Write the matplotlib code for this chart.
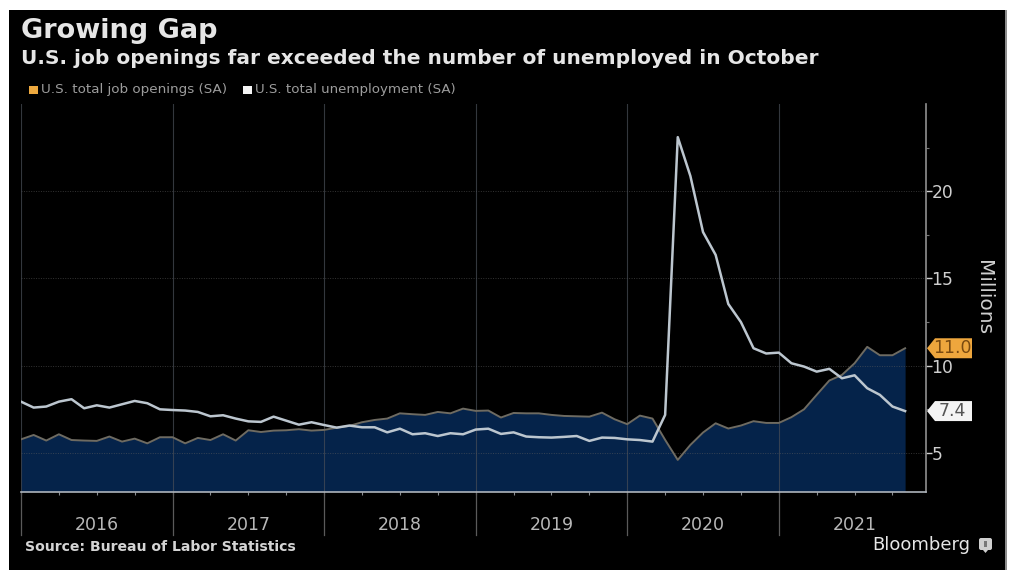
import matplotlib
matplotlib.use('Agg')
import matplotlib.pyplot as plt
from matplotlib.patches import FancyBboxPatch, Polygon, Rectangle

# month-end observations, Dec 2015 to Oct 2021
months = list(range(71))
openings = [5.78, 6.03, 5.71, 6.07, 5.74, 5.71, 5.69, 5.94, 5.65, 5.82, 5.55, 5.90,
            5.90, 5.55, 5.86, 5.74, 6.07, 5.71, 6.30, 6.20, 6.28, 6.30, 6.36, 6.28,
            6.32, 6.45, 6.55, 6.76, 6.89, 6.97, 7.27, 7.22, 7.18, 7.35, 7.27, 7.54,
            7.41, 7.43, 7.03, 7.29, 7.27, 7.27, 7.18, 7.12, 7.10, 7.08, 7.31, 6.93,
            6.65, 7.14, 6.97, 5.75, 4.60, 5.46, 6.17, 6.70, 6.40, 6.57, 6.82, 6.72,
            6.72, 7.05, 7.50, 8.33, 9.15, 9.47, 10.14, 11.08, 10.60, 10.60, 11.0]
unemployment = [7.94, 7.60, 7.66, 7.94, 8.08, 7.56, 7.73, 7.60, 7.79, 7.98, 7.85, 7.50,
                7.46, 7.43, 7.35, 7.10, 7.16, 6.97, 6.81, 6.78, 7.08, 6.85, 6.62, 6.76,
                6.60, 6.45, 6.57, 6.47, 6.47, 6.18, 6.39, 6.07, 6.13, 5.97, 6.13, 6.07,
                6.34, 6.39, 6.09, 6.18, 5.94, 5.90, 5.88, 5.92, 5.97, 5.69, 5.88, 5.86,
                5.78, 5.74, 5.65, 7.18, 23.1, 20.87, 17.66, 16.35, 13.54, 12.5, 11.0, 10.7,
                10.75, 10.14, 9.95, 9.66, 9.82, 9.28, 9.45, 8.71, 8.33, 7.66, 7.4]
year_labels = ['2016', '2017', '2018', '2019', '2020', '2021']
year_edges = [0, 12, 24, 36, 48, 60]
y_ticks = [5, 10, 15, 20]

W, H = 1011, 570
TEXT = '#cfcfcf'
Y_MIN = 2.79

fig = plt.figure(figsize=(W / 100, H / 100), dpi=100, facecolor='white')


def pixel_axes(z):
    # full-figure overlay addressed in pixels
    a = fig.add_axes([0, 0, 1, 1], zorder=z)
    a.set_xlim(0, W)
    a.set_ylim(H, 0)
    a.axis('off')
    return a


back = pixel_axes(0)
back.add_patch(Rectangle((9, 10), 996, H - 10, color='black', lw=0))
back.add_patch(Rectangle((1005, 10), 2, H - 10, color='#8c8c8c', lw=0))

# plot area spans px 21-926 horizontally and 104-491 vertically
ax = fig.add_axes([21 / W, 1 - 491.5 / H, (926 - 21) / W, (491.5 - 104) / H], zorder=1)
ax.set_facecolor('none')
ax.set_xlim(0, 905 / 12.63)
ax.set_ylim(Y_MIN, 25.0)

ax.fill_between(months, openings, Y_MIN, color='#05234a', lw=0, zorder=1)
for v in y_ticks:
    ax.axhline(v, color='#5e5e5e', lw=0.7, ls=(0, (1, 1.5)), alpha=0.55, zorder=2)
ax.plot(months, openings, color='#6e6b62', lw=1.4, zorder=3)
ax.plot(months, unemployment, color='#bcc6cf', lw=1.8, zorder=4)

for s in ['top', 'left']:
    ax.spines[s].set_visible(False)
ax.spines['right'].set_color('#8f8f8f')
ax.spines['bottom'].set_color('#aeb4bb')
ax.spines['right'].set_linewidth(1.2)
ax.spines['bottom'].set_linewidth(1.2)

ax.set_yticks(y_ticks)
ax.set_yticklabels([str(v) for v in y_ticks])
ax.yaxis.tick_right()
ax.tick_params(axis='y', colors=TEXT, labelsize=12.3, length=4, width=1, pad=0)
ax.set_yticks([7.5, 12.5, 17.5, 22.5], minor=True)
ax.tick_params(axis='y', which='minor', length=2.5, width=0.8, color='#777777')

ax.set_xticks(list(range(0, 71, 3)))
ax.set_xticklabels([])
ax.tick_params(axis='x', length=2.5, width=0.8, color='#8a8e92')

# year separators run from the plot down into the label band
for e in year_edges:
    ax.plot([e, e], [25.0, Y_MIN], color='#4a4f58', lw=0.8, alpha=0.7, zorder=2)
    ax.plot([e, e], [Y_MIN, 0.28], color='#5a5a5a', lw=0.9, clip_on=False, zorder=2)
for e, lab in zip(year_edges, year_labels):
    ax.annotate(lab, (e + 6, Y_MIN), xytext=(0, -33), textcoords='offset pixels',
                ha='center', va='center', color='#b8b8b8', fontsize=12.5)

front = pixel_axes(2)
front.text(983, 298, 'Millions', rotation=270, ha='center', va='center', color=TEXT,
           fontsize=14.5)


def value_tag(yv, text, face, tc):
    # flag label pinned to the right axis
    yp = H - ax.transData.transform((0, yv))[1]
    h = 10
    front.add_patch(Polygon([(927, yp), (935, yp - h), (972, yp - h), (972, yp + h),
                             (935, yp + h)], closed=True, fc=face, lw=0, zorder=5))
    front.text(952, yp, text, color=tc, fontsize=12.5, ha='center', va='center', zorder=6)


value_tag(11.0, '11.0', '#eea63d', '#7a4a10')
value_tag(7.4, '7.4', '#f4f4f4', '#555555')

front.text(21, 31, 'Growing Gap', color='#e6e6e6', fontsize=19.5, fontweight='bold', va='center')
front.text(21, 58, 'U.S. job openings far exceeded the number of unemployed in October',
           color='#e6e6e6', fontsize=14.5, fontweight='bold', va='center')

front.add_patch(Rectangle((29, 86), 9, 8, color='#eda93f', lw=0))
front.text(41, 90, 'U.S. total job openings (SA)', color='#9c9c9c', fontsize=9.7, va='center')
front.add_patch(Rectangle((243, 86), 9, 8, color='#f4f4f4', lw=0))
front.text(255, 90, 'U.S. total unemployment (SA)', color='#9c9c9c', fontsize=9.6, va='center')

front.text(25, 547, 'Source: Bureau of Labor Statistics', color='#d4d4d4', fontsize=10.1,
           fontweight='bold', va='center')
front.text(872, 545, 'Bloomberg', color='#e6e6e6', fontsize=13, fontweight='medium', va='center')

# small logo box next to the wordmark
front.add_patch(FancyBboxPatch((979, 538), 13, 12, boxstyle='round,pad=0,rounding_size=2',
                               fc='#cfcfcf', lw=0))
front.add_patch(Polygon([(983, 550), (988, 550), (985.5, 553)], closed=True, fc='#cfcfcf', lw=0))
front.add_patch(Rectangle((984, 541), 3, 6, color='#777777', lw=0))

fig.savefig('out.png', dpi=100)
